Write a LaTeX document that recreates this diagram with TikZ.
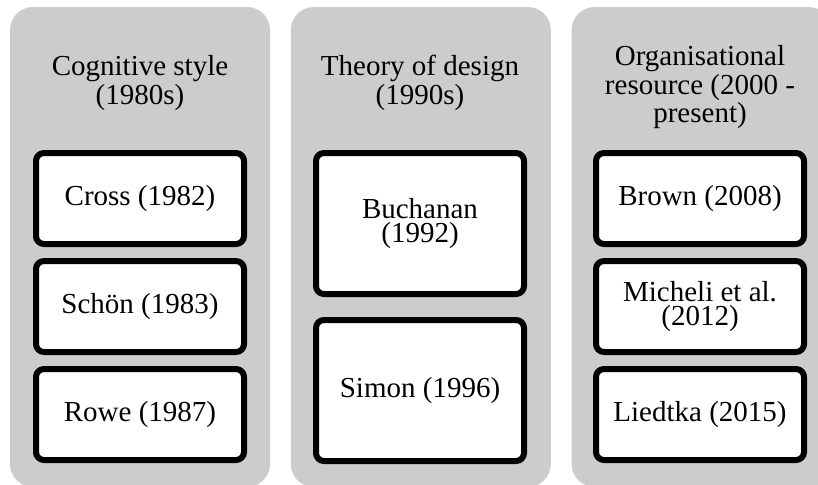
\documentclass[tikz,border=0pt]{standalone}
\usepackage{fontspec}
\setmainfont{Liberation Serif}
\usepackage{tikz}
\usetikzlibrary{positioning}
\definecolor{panelgray}{RGB}{204,204,204}

\begin{document}
\begin{tikzpicture}[
    x=0.5pt, y=-0.5pt,
    node distance=5.5pt and 10pt,
    every node/.style={font=\fontsize{14.5}{11.6}\selectfont},
    panel/.style={rectangle, rounded corners=11.5pt, fill=panelgray, minimum width=130pt, minimum height=240pt, inner sep=0pt},
    heading/.style={align=center, inner sep=0pt},
    entry/.style={rectangle, draw, line width=3pt, rounded corners=4pt, fill=white, minimum width=104pt, minimum height=45.5pt, align=center, inner sep=0pt},
    tallentry/.style={entry, minimum height=70.5pt}
]
\useasboundingbox (0,0) rectangle (818,484);
\clip (0,0) rectangle (818,484);

% Panels
\node[panel] (cogpanel) at (140,247) {};
\node[panel, right=of cogpanel] (designpanel) {};
\node[panel, right=of designpanel] (orgpanel) {};

% Headings
\node[heading] (cogtitle) at (140,83) {Cognitive style\\(1980s)};
\node[heading] (designtitle) at (420,83) {Theory of design\\(1990s)};
\node[heading] (orgtitle) at (700,87) {Organisational\\resource (2000 -\\present)};

% Cognitive style
\node[entry, anchor=north] (cross) at (140,150) {Cross (1982)};
\node[entry, below=of cross] (schon) {Schön (1983)};
\node[entry, below=of schon] (rowe) {Rowe (1987)};

% Theory of design
\node[tallentry, anchor=north] (buchanan) at (420,150) {Buchanan\\(1992)};
\node[tallentry, below=10pt of buchanan] (simon) {Simon (1996)};

% Organisational resource
\node[entry, anchor=north] (brown) at (700,150) {Brown (2008)};
\node[entry, below=of brown] (micheli) {Micheli et al.\\(2012)};
\node[entry, below=of micheli] (liedtka) {Liedtka (2015)};

\end{tikzpicture}
\end{document}
